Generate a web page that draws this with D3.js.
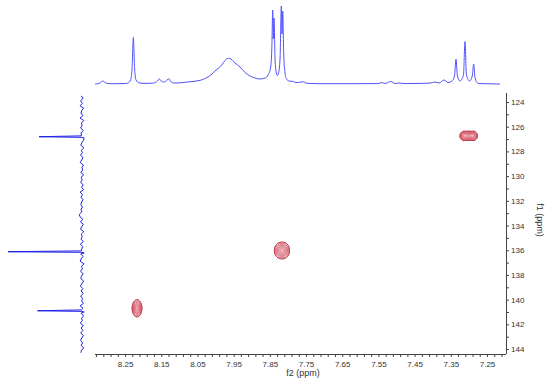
<!DOCTYPE html>
<html>
<head>
<meta charset="utf-8">
<script src="https://cdn.jsdelivr.net/npm/d3@7"></script>
<style>
  html, body { margin: 0; padding: 0; background: #ffffff; }
  svg { display: block; font-family: "Liberation Sans", Arial, sans-serif; }
</style>
</head>
<body>
<svg id="chart" width="550" height="384"></svg>
<script>
// ---------------- DATA ----------------
// f2 (1H) projection spectrum shown on top: chemical shift (ppm) and intensity
const f2Ppm = [8.3329, 8.3251, 8.3191, 8.3116, 8.3052, 8.2997, 8.2914, 8.2776, 8.2500,
  8.2417, 8.2348, 8.2307, 8.2271, 8.2235, 8.2196, 8.2113, 8.1948, 8.1754,
  8.1657, 8.1602, 8.1553, 8.1497, 8.1436, 8.1381, 8.1293, 8.1229, 8.1146,
  8.0981, 8.0704, 8.0428, 8.0235, 8.0097, 7.9986, 7.9923, 7.9829, 7.9738, 7.9646,
  7.9572, 7.9461, 7.9323, 7.9185, 7.9047, 7.8909, 7.8771, 7.8633, 7.8550,
  7.8481, 7.8445, 7.8420, 7.8402, 7.8384, 7.8356, 7.8320, 7.8293, 7.8260, 7.8218,
  7.8182, 7.8163, 7.8144, 7.8116, 7.8080, 7.8039, 7.7970, 7.7851, 7.7776, 7.7707,
  7.7575, 7.7500, 7.7390, 7.7113, 7.6284, 7.5511, 7.5409, 7.5318, 7.5160, 7.5041,
  7.4923, 7.4793, 7.4351, 7.4075, 7.3937, 7.3826, 7.3688, 7.3578, 7.3468, 7.3398,
  7.3357, 7.3316, 7.3246, 7.3150, 7.3108, 7.3067, 7.2984, 7.2907, 7.2869, 7.2830,
  7.2764, 7.2693, 7.2417, 7.2141];
const f2Intensity = [0.0, 0.3, 1.2, 3.0, 1.5, 0.6, 0.3, 0.3, 0.5,
  1.0, 4.0, 15.0, 46.5, 15.0, 4.0, 1.2, 0.6, 0.8,
  1.5, 3.0, 5.0, 2.8, 2.0, 2.5, 5.3, 2.0, 1.0,
  1.2, 2.3, 3.6, 6.5, 10.0, 14.0, 15.7, 19.0, 23.5, 25.7,
  25.0, 21.0, 17.0, 11.5, 8.0, 6.0, 5.0, 6.0, 9.0,
  16.0, 35.0, 74.0, 45.0, 66.0, 25.0, 11.0, 8.5, 11.0, 25.0,
  78.0, 50.0, 73.0, 30.0, 11.0, 5.0, 3.0, 2.5, 1.5, 1.5,
  2.3, 1.0, 0.5, 0.3, 0.3, 0.4, 1.5, 0.5, 2.5, 0.5,
  1.0, 0.4, 0.6, 0.9, 2.0, 1.0, 4.0, 1.5, 3.0, 8.0,
  24.7, 8.0, 3.0, 9.0, 42.3, 9.0, 3.0, 8.0, 20.0, 6.0,
  1.0, 0.4, 0.2, 0.0];

// f1 (13C) projection on the left: baseline noise on a regular grid plus sharp peaks
const f1NoiseStart = 123.5;
const f1NoiseStep = 0.2;
const f1Noise = [0.8, -1.2, 1.5, -0.4, 1.9, -1.6, 0.3, 1.1, -0.9, 2.0, -1.8, 0.6, -0.2, 1.4, -1.3, 0.9, -0.7, 1.7, -1.5, 0.2,
  1.2, -1.9, 0.7, -0.5, 1.6, -1.1, 0.4, 1.8, -1.4, 0.1, -0.8, 1.3, -1.7, 1.0, -0.3, 1.5, -1.2, 0.5, -1.6, 1.9,
  -0.6, 1.1, -1.0, 0.3, 1.2, -0.4, 1.0, 0.2, 2.8, 1.9, -0.9, 1.6, -1.3, 0.4, 1.4, -1.8, 0.7, -0.2, 1.0, -1.4,
  1.7, -0.7, 0.2, -1.6, 1.3, -1.1, 0.9, 1.8, -1.9, 0.5, -0.4, 1.5, -1.2, 0.6, 1.2, -1.7, 0.1, 1.6, -0.8, 0.9,
  -1.3, 1.4, -0.5, 0.3, -1.5, 1.9, -1.0, 0.7, 1.1, -1.6, 0.4, -0.3, 1.7, -1.2, 0.8, -0.9, 1.3, -1.4, 0.2, 1.5,
  -0.6, 1.0, -1.8, 0.5, 1.2];
const f1PeakPpm = [126.81, 136.12, 140.90];
const f1PeakHeight = [43, 74, 44.5];

// 2D cross peaks (HSQC): f2 ppm, f1 ppm, widths (ppm) and relative heights
const crossF2 = [8.2169, 7.8220, 7.8110, 7.3135, 7.3006, 7.2878];
const crossF1 = [140.70, 136.02, 136.02, 126.74, 126.74, 126.74];
const crossWidthF2 = [0.0060, 0.0075, 0.0075, 0.0052, 0.0052, 0.0052];
const crossWidthF1 = [0.31, 0.30, 0.30, 0.17, 0.17, 0.17];
const crossHeight = [1.0, 0.66, 0.66, 0.85, 0.9, 0.85];
const contourLevels = [0.08, 0.16, 0.28, 0.42, 0.58, 0.75, 0.9];

// axis ticks
const f2TickLabels = [8.25, 8.15, 8.05, 7.95, 7.85, 7.75, 7.65, 7.55, 7.45, 7.35, 7.25];
const f1TickLabels = [124, 126, 128, 130, 132, 134, 136, 138, 140, 142, 144];

// ---------------- LAYOUT ----------------
const svg = d3.select("#chart");
const plot = { left: 95, right: 506, top: 93, bottom: 354 };

const x = d3.scaleLinear().domain([8.333, 7.1975]).range([plot.left, plot.right]);
const y = d3.scaleLinear().domain([123.27, 144.40]).range([plot.top, plot.bottom]);
const topY = d3.scaleLinear().domain([0, 78]).range([84, 6]);
const leftX = d3.scaleLinear().domain([0, 74]).range([82, 8]);

// ---------------- CONTOURS ----------------
const gw = plot.right - plot.left, gh = plot.bottom - plot.top;
const grid = new Float64Array(gw * gh);
for (let j = 0; j < gh; j++) {
  const f1v = y.invert(plot.top + j + 0.5);
  for (let i = 0; i < gw; i++) {
    const f2v = x.invert(plot.left + i + 0.5);
    let s = 0;
    for (let k = 0; k < crossF2.length; k++) {
      const dx = (f2v - crossF2[k]) / crossWidthF2[k];
      const dy = (f1v - crossF1[k]) / crossWidthF1[k];
      s += crossHeight[k] * Math.exp(-0.5 * (dx * dx + dy * dy));
    }
    grid[j * gw + i] = s;
  }
}
const contours = d3.contours().size([gw, gh]).thresholds(contourLevels)(grid);
const contourColor = d3.scaleLinear().domain([0, contourLevels.length - 1])
  .range(["#b00018", "#e06070"]);
const cg = svg.append("g").attr("transform", `translate(${plot.left},${plot.top})`);
cg.selectAll("path").data(contours).join("path")
  .attr("d", d3.geoPath())
  .attr("fill", "rgba(240,160,170,0.10)")
  .attr("stroke", (d, i) => contourColor(i))
  .attr("stroke-width", (d, i) => i === 0 ? 1 : 0.6);

// ---------------- TOP SPECTRUM ----------------
const topData = f2Ppm.map((p, i) => ({ p, v: f2Intensity[i] }));
const topLine = d3.line().x(d => x(d.p)).y(d => topY(d.v)).curve(d3.curveMonotoneX);
svg.append("path")
  .datum(topData)
  .attr("fill", "none")
  .attr("stroke", "#5252ff")
  .attr("stroke-width", 1)
  .attr("d", topLine);

// ---------------- LEFT PROJECTION ----------------
let leftData = f1Noise.map((v, i) => ({ f: f1NoiseStart + i * f1NoiseStep, v }))
  .filter(d => f1PeakPpm.every(p => Math.abs(d.f - p) > 0.15));
f1PeakPpm.forEach((p, i) => {
  leftData.push({ f: p - 0.07, v: 0.6 });
  leftData.push({ f: p, v: f1PeakHeight[i] });
  leftData.push({ f: p + 0.05, v: 0.2 });
  leftData.push({ f: p + 0.1, v: -2.2 });
});
leftData.sort((a, b) => a.f - b.f);
svg.append("path")
  .datum(leftData)
  .attr("fill", "none")
  .attr("stroke", "#2020e8")
  .attr("stroke-width", 1)
  .attr("d", d3.line().x(d => leftX(d.v)).y(d => y(d.f)));

// ---------------- AXES ----------------
const minorF2 = d3.range(0, 57).map(i => +(8.33 - i * 0.02).toFixed(2)).filter(v => v >= 7.2);
const xAxis = d3.axisBottom(x).tickValues(minorF2).tickSize(3).tickPadding(4)
  .tickFormat(v => f2TickLabels.some(t => Math.abs(t - v) < 1e-6) ? d3.format(".2f")(v) : "");
const gx = svg.append("g").attr("transform", `translate(0,${plot.bottom})`).call(xAxis);
gx.select(".domain").attr("d", `M${plot.left},0.5H${plot.right}`);

const minorF1 = d3.range(124, 145, 1);
const yAxis = d3.axisRight(y).tickValues(minorF1).tickSize(3).tickPadding(2)
  .tickFormat(v => f1TickLabels.includes(v) ? v : "");
const gy = svg.append("g").attr("transform", `translate(${plot.right},0)`).call(yAxis);
gy.select(".domain").attr("d", `M0.5,${plot.top}V${plot.bottom}`);

[gx, gy].forEach(g => {
  g.selectAll("text").attr("font-size", 8).attr("fill", "#333").attr("font-family", "Liberation Sans, Arial, sans-serif");
  g.selectAll("line").attr("stroke", "#444");
  g.select(".domain").attr("stroke", "#444");
});

svg.append("text")
  .attr("x", 303).attr("y", 376)
  .attr("text-anchor", "middle")
  .attr("font-size", 9).attr("fill", "#333")
  .text("f2 (ppm)");

svg.append("text")
  .attr("transform", "translate(537,220) rotate(90)")
  .attr("text-anchor", "middle")
  .attr("font-size", 9).attr("fill", "#333")
  .text("f1 (ppm)");
</script>
</body>
</html>
